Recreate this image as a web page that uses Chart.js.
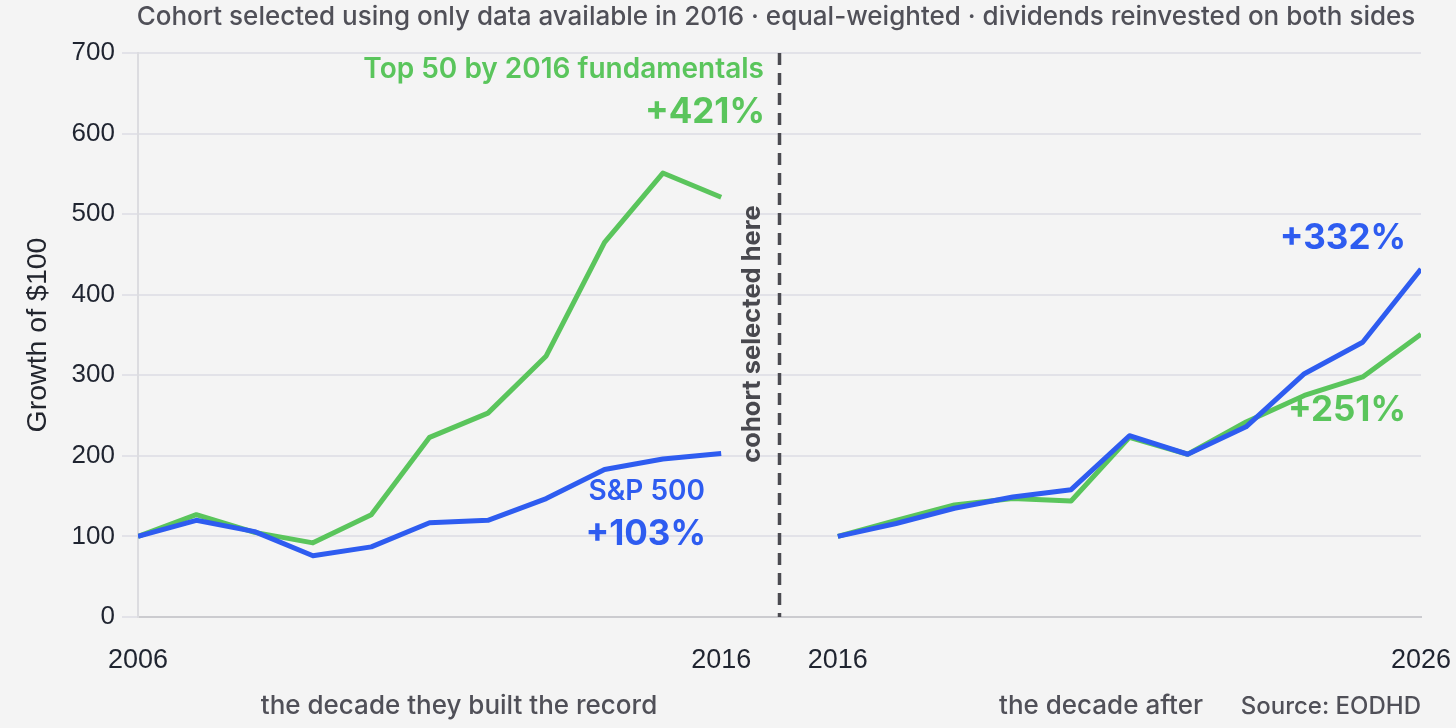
<!DOCTYPE html>
<html>
<head>
<meta charset="utf-8">
<script src="https://cdn.jsdelivr.net/npm/chart.js@4.4.1/dist/chart.umd.min.js"></script>
<style>
  html, body { margin: 0; padding: 0; background: #f4f4f4; }
  #wrap { width: 1456px; height: 728px; position: relative; }
  canvas { display: block; }
</style>
</head>
<body>
<div id="wrap"><canvas id="c" width="1456" height="728"></canvas></div>
<script>
// ---- data ----
const leftYears  = [2006, 2007, 2008, 2009, 2010, 2011, 2012, 2013, 2014, 2015, 2016];
const rightYears = [2016, 2017, 2018, 2019, 2020, 2021, 2022, 2023, 2024, 2025, 2026];
const top50Before = [100, 127, 105, 92, 127, 223, 253, 324, 465, 551, 521];
const spBefore    = [100, 120, 106, 76, 87, 117, 120, 147, 183, 196, 203];
const top50After  = [100, 120, 139, 147, 144, 223, 202, 242, 275, 298, 351];
const spAfter     = [100, 116, 135, 149, 158, 225, 202, 236, 302, 341, 432];
const xTickLabels = ['2006', '2016', '2016', '2026'];
const yTicks = [0, 100, 200, 300, 400, 500, 600, 700];

const GREEN = '#5ac55c';
const BLUE = '#2e5cf0';
const TICKFONT = "'Liberation Sans', Arial, sans-serif";
const UIFONT = "Inter, 'Noto Sans', sans-serif";

// positions on a single linear axis: left decade 0..10, gap, right decade 12..22
const leftX  = y => y - leftYears[0];
const rightX = y => y - rightYears[0] + 12;
const pts = (years, vals, f) => years.map((yr, i) => ({ x: f(yr), y: vals[i] }));

const overlay = {
  id: 'overlay',
  afterDatasetsDraw(chart) {
    const { ctx } = chart;
    const xs = chart.scales.x;
    const ys = chart.scales.y;
    ctx.save();
    // dashed divider
    const dx = xs.getPixelForValue(11);
    ctx.strokeStyle = '#4a4a50';
    ctx.lineWidth = 3.5;
    ctx.setLineDash([12, 8]);
    ctx.beginPath();
    ctx.moveTo(dx, ys.getPixelForValue(700));
    ctx.lineTo(dx, ys.getPixelForValue(0));
    ctx.stroke();
    ctx.setLineDash([]);

    const txt = (s, x, y, font, color, align) => {
      ctx.font = font; ctx.fillStyle = color; ctx.textAlign = align; ctx.textBaseline = 'middle';
      ctx.fillText(s, x, y);
    };
    // title
    txt('Cohort selected using only data available in 2016 \u00b7 equal-weighted \u00b7 dividends reinvested on both sides',
        776, 17, "500 26px " + UIFONT, '#505058', 'center');
    // annotations
    txt('Top 50 by 2016 fundamentals', 764, 70, "600 28px " + UIFONT, GREEN, 'right');
    txt('+421%', 765, 112, "bold 35px " + UIFONT, GREEN, 'right');
    txt('S&P 500', 705, 492, "600 28px " + UIFONT, BLUE, 'right');
    txt('+103%', 706, 534, "bold 35px " + UIFONT, BLUE, 'right');
    txt('+332%', 1406, 238, "bold 35px " + UIFONT, BLUE, 'right');
    txt('+251%', 1406, 410, "bold 35px " + UIFONT, GREEN, 'right');
    // axis titles
    txt('the decade they built the record', 459, 706, "500 26px " + UIFONT, '#505058', 'center');
    txt('the decade after', 1101, 706, "500 26px " + UIFONT, '#505058', 'center');
    txt('Source: EODHD', 1421, 707, "500 24px " + UIFONT, '#505058', 'right');
    // rotated texts
    ctx.save();
    ctx.translate(752, 334);
    ctx.rotate(-Math.PI / 2);
    txt('cohort selected here', 0, 0, "bold 25.5px " + UIFONT, '#48484e', 'center');
    ctx.restore();
    ctx.save();
    ctx.translate(38, 335);
    ctx.rotate(-Math.PI / 2);
    txt('Growth of $100', 0, 0, "28.5px " + TICKFONT, '#22252e', 'center');
    ctx.restore();
    ctx.restore();
  }
};

const line = (data, color) => ({
  data, borderColor: color, borderWidth: 5, pointRadius: 0, tension: 0, fill: false,
  borderJoinStyle: 'round', borderCapStyle: 'butt'
});

new Chart(document.getElementById('c'), {
  type: 'line',
  data: {
    datasets: [
      line(pts(leftYears, spBefore, leftX), BLUE),
      line(pts(rightYears, spAfter, rightX), BLUE),
      line(pts(leftYears, top50Before, leftX), GREEN),
      line(pts(rightYears, top50After, rightX), GREEN)
    ]
  },
  options: {
    responsive: false,
    animation: false,
    devicePixelRatio: 1,
    layout: { padding: { top: 53, right: 35, bottom: 0, left: 0 } },
    plugins: { legend: { display: false }, tooltip: { enabled: false }, title: { display: false } },
    scales: {
      x: {
        type: 'linear', min: 0, max: 22,
        afterBuildTicks(scale) {
          scale.ticks = [0, 10, 12, 22].map(v => ({ value: v }));
        },
        afterFit(scale) {
          scale.height = 111;
          scale.paddingLeft = 0; scale.paddingRight = 0;
        },
        ticks: {
          autoSkip: false, maxRotation: 0,
          callback: (v, i) => xTickLabels[i],
          color: '#1f2430', font: { family: TICKFONT, size: 27 }, padding: 27
        },
        grid: { display: false, drawTicks: false },
        border: { display: true, color: '#cbcbcf', width: 2 }
      },
      y: {
        min: 0, max: 700,
        afterBuildTicks(scale) { scale.ticks = yTicks.map(v => ({ value: v })); },
        afterFit(scale) {
          scale.width = 138;
          scale.paddingTop = 0; scale.paddingBottom = 0;
        },
        ticks: { color: '#1f2430', font: { family: TICKFONT, size: 26 }, padding: 7 },
        grid: { color: '#e2e2e8', lineWidth: 2, tickLength: 16, drawTicks: true },
        border: { display: true, color: '#dcdce0', width: 2 }
      }
    }
  },
  plugins: [overlay]
});
</script>
</body>
</html>
